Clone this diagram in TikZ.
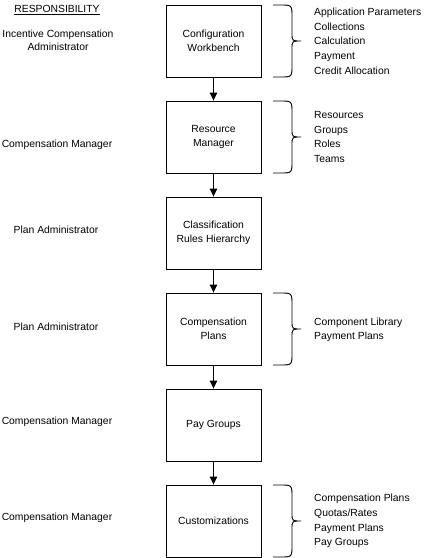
\documentclass[tikz,border=0pt]{standalone}
\usepackage{fontspec}
\setmainfont{Liberation Sans}
\usetikzlibrary{arrows.meta}
\newcommand\mybrace[2]{% top, bottom (in px, y down)
  \pgfmathsetmacro\mid{(#1+#2)/2}
  \draw[bracel] (273,#1) -- (280,#1) .. controls (292,#1) .. (292,#1+12)
    -- (292,\mid-8) .. controls (292,\mid) .. (301,\mid)
    .. controls (292,\mid) .. (292,\mid+8)
    -- (292,#2-12) .. controls (292,#2) .. (280,#2) -- (273,#2);}
\begin{document}
\begin{tikzpicture}[x=1pt,y=-1pt,
  every node/.style={font=\fontsize{10.35}{13.5}\selectfont, inner sep=0pt},
  stage/.style={draw, line width=0.9pt, minimum width=95pt, minimum height=72pt, align=center},
  role/.style={align=center},
  items/.style={anchor=west, align=left, font=\fontsize{10.35}{14.7}\selectfont},
  flow/.style={line width=0.9pt, -{Triangle[length=8pt,width=7.5pt]}},
  bracel/.style={line width=0.9pt}]
\useasboundingbox (0,0) rectangle (427,558);

\node[anchor=base] (head) at (57,12.5) {\underline{RESPONSIBILITY}};

\node[stage] (b1) at (213.5,41) {Configuration\\Workbench};
\node[stage] (b2) at (213.5,137) {Resource\\Manager};
\node[stage] (b3) at (213.5,233) {Classification\\Rules Hierarchy};
\node[stage] (b4) at (213.5,329) {Compensation\\Plans};
\node[stage] (b5) at (213.5,425) {Pay Groups};
\node[stage] (b6) at (213.5,521) {Customizations};

\draw[flow] (b1) -- (b2);
\draw[flow] (b2) -- (b3);
\draw[flow] (b3) -- (b4);
\draw[flow] (b4) -- (b5);
\draw[flow] (b5) -- (b6);

\node[role] (r1) at (58,40.5) {Incentive Compensation\\Administrator};
\node[role] (r2) at (57,145) {Compensation Manager};
\node[role] (r3) at (56,230) {Plan Administrator};
\node[role] (r4) at (56,326.5) {Plan Administrator};
\node[role] (r5) at (57,422) {Compensation Manager};
\node[role] (r6) at (57,518) {Compensation Manager};

\mybrace{5}{77}
\mybrace{101}{173}
\mybrace{293}{365}
\mybrace{485}{557}

\node[items] (l1) at (314,41.2) {Application Parameters\\Collections\\Calculation\\Payment\\Credit Allocation};
\node[items] (l2) at (314,137) {Resources\\Groups\\Roles\\Teams};
\node[items] (l4) at (314,329.7) {Component Library\\Payment Plans};
\node[items] (l6) at (314,521) {Compensation Plans\\Quotas/Rates\\Payment Plans\\Pay Groups};
\end{tikzpicture}
\end{document}
